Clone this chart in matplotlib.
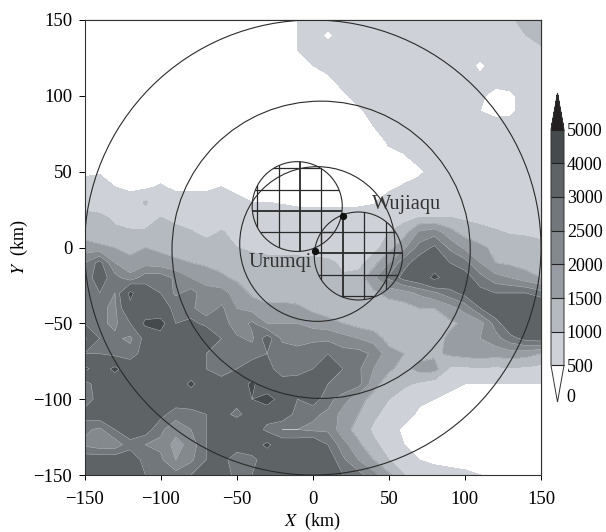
"""
Terrain height map around Urumqi and Wujiaqu, with nested domains.
Heights were read off the printed figure on a 10 km grid.
"""
import matplotlib
matplotlib.use("Agg")
import matplotlib.pyplot as plt
from matplotlib.patches import Circle
import numpy as np

plt.rcParams.update({
    "font.family": "Liberation Serif",
    "mathtext.fontset": "stix",
    "font.size": 13,
    "axes.linewidth": 0.8,
})

x_km = np.arange(-150, 151, 10)
y_km = np.arange(150, -151, -10)

# heights in units of 100 m, one row per y (north to south), one value per x (west to east)
height_rows = [
    [3,3,3,3,3,3,3,3,3,3, 3,3,3,3,5,7,7,7,7,7, 7,7,7,7,7,7,7,7,9,12, 12],
    [3,3,3,3,3,3,3,3,3,3, 3,3,3,3,5,7,4,7,7,7, 7,7,7,7,7,7,7,7,7,10, 12],
    [3,3,3,3,3,3,3,3,3,3, 3,3,3,3,5,7,7,7,7,7, 7,7,7,7,7,7,7,7,7,7, 9],
    [3,3,3,3,3,3,3,3,3,3, 3,3,3,3,4,5,7,7,7,7, 7,7,7,7,7,7,4,7,7,7, 7],
    [3,3,3,3,3,3,3,3,3,3, 3,3,3,3,3,3,3.5,7,7,7, 7,7,7,7,7,7,6,7,7,7, 7],
    [3,3,3,3,3,3,3,3,3,3, 3,3,3,3,3,3,3,4,7,7, 7,7,7,7,7,7,6,3,4,7, 7],
    [3,3,3,3,3,3,3,3,3,3, 3,3,3,3,3,3,3,3,4,7, 7,7,7,7,7,7,5,3.5,4,7, 7],
    [3,3,3,3,3,3,3,3,3,3, 3,3,3,3,3,3,3,3,3,5, 7,7,7,7,7,7,7,7,7,7, 7],
    [3,3,3,3,3,3,3,3,3,3, 3,3,3,3,3,3,3,3,3,3, 5.5,7,7,7,7,7,7,7,7,7, 7],
    [3,3,3,3,3,3,3,3,3,3, 3,3,3,3,3,3,3,3,3,3, 4,4.5,7,7,7,7,7,7,7,7, 7],
    [4,4.5,3,3,3,3,3,3,3,3, 3,3,3,3,3,3,3,3,3,3, 3,3,4,7,7,7,7,7,7,7, 7],
    [7,7,5,4,4,5.5,4,4,4,5, 4,3,3,3,3,3,3,3,3,3, 4,5.5,7,7,7,7,7,7,7,7, 7],
    [7,7,7,7,10.5,7,7,7,7,7, 6,5,5,4.6,4,4,4,4,4,4.6, 7,7,7,7,7,7,7,7,7,7, 7],
    [12,11,9,8,8,10,9,7,7,7, 7,7,7,7,7,7,7,7,7,7, 7,8,10,10,10,9,8,8,7.5,7, 7],
    [13,12,11,10.5,10.5,11,11,10.5,8,10.5, 8,7,7,7,7,7,7,7,7,8, 10,13,21,23,17,13,12,10.5,9.5,9, 8],
    [17,16,15,14,15,14,13,13,13,11, 10,9,8,8,7.5,7,7,7,7,8, 13,19,27,31,24,19,16,14,13,13, 12],
    [25,32,20,16,18,17,16,15,14,13, 12,12,12,12,12,12,11,9,8,13, 20,28,33,36,30,27,20,15,14,13, 13],
    [27,33,27,22,28,28,24,20,18,16, 14,13,12,12,12,12,12,10.5,12,19, 26,32,35,42,36,33,27,22,20,17, 15],
    [30,30,25,42,33,30,24,27,22,22, 18,14,13,12,12,12,12,12,13,14, 17,18,21,24,28,32,32,30,30,30, 27],
    [27,26,24,38,34,32,29,26,22,26, 20,18,16,17,16,14,12,12,12,12, 12,13,15,15,18,22,30,36,38,38, 38],
    [30,26,24,30,42,44,30,32,28,28, 22,26,20,20,20,18,17,15,13,12, 12,12,12,12,14,16,18,27,36,36, 38],
    [42,30,26,24,32,36,34,33,38,30, 26,24,33,24,24,24,24,22,20,18, 13,12,12,13,16,18,20,23,28,32, 33],
    [30,30,28,27,33,34,34,33,30,27, 26,28,30,28,26,28,30,27,27,24, 17,15,13,14,16,17,18,17,18,17, 15],
    [42,36,42,35,34,34,34,34,30,27, 30,33,33,26,27,30,33,30,26,20, 16,13,17,17,9,9,9,9,9,9, 8],
    [27,34,34,34,34,34,34,42,34,33, 34,42,33,34,34,31,30,30,27,17, 12,11,9,7,6,5,5,5,5,5, 5],
    [26,33,34,34,34,34,34,34,34,34, 33,40,44,36,30,33,27,22,17,13, 10,7,6,5,4,3,3,3,3,3, 3],
    [33,34,34,34,34,32,27,28,30,33, 28,34,34,34,28,26,24,18,15,11, 8,7,4,3,3,3,3,3,3,3, 3],
    [26,24,30,34,33,26,22,25,30,34, 38,36,28,25,25,24,24,17,13,9, 7,4,3,3,3,3,3,3,3,3, 3],
    [24,22,22,28,25,24,18,22,30,34, 34,35,42,34,34,36,30,22,16,11, 8,5,3,3,3,3,3,3,3,3, 3],
    [34,34,34,34,28,26,20,24,30,33, 26,28,34,34,34,36,34,26,20,15, 10,7,5,4,3,3,3,3,3,3, 3],
    [30,34,34,34,30,28,27,30,34,34, 28,30,34,34,34,34,34,30,27,22, 16,10,8,7,7,6,5,3,3,3, 3],
]
height = np.array(height_rows) * 100.0

levels = [500, 1000, 1500, 2000, 2500, 3000, 4000, 5000]
fill_colors = ["#ffffff", "#ced1d8", "#b5b9c0", "#989ca3", "#84898e",
               "#72777b", "#5e6366", "#454a4d", "#231f20"]

# domains: centre x, centre y, radius (km)
big_circles = [(0, 0, 150), (5.5, -1.5, 98), (3, 2.3, 51)]
nw_circle = (-10.2, 27, 29.6)
se_circle = (30, -5.6, 29)

nw_xlines = [-36.5, -22, -8.3, 5.6]
nw_ylines = [52.4, 38, 24, 10]
se_xlines = [5.6, 20, 34, 48]
se_ylines = [10, -3.6, -18, -32]
thick_xlines = [-8.3, 20]
thick_ylines = [24, -3.6]

city_names = ["Urumqi", "Wujiaqu"]
city_x = [1.6, 20]
city_y = [-2, 21]

W, H = 606, 532
fig = plt.figure(figsize=(W / 100, H / 100), dpi=100)
ax = fig.add_axes([84.5 / W, 1 - 475 / H, 456.5 / W, 455 / H])

cs = ax.contourf(x_km, y_km, height, levels=levels, colors=fill_colors, extend="both")
ax.contour(x_km, y_km, height, levels=levels[2:], colors="#c4c7cc", linewidths=0.35)

for cx, cy, r in big_circles:
    ax.add_patch(Circle((cx, cy), r, fill=False, ec="#2a2a2a", lw=0.8, zorder=5))


def grid_in_circle(circle, xlines, ylines):
    cx, cy, r = circle
    c = Circle((cx, cy), r, fill=False, ec="#2a2a2a", lw=0.8, zorder=6)
    ax.add_patch(c)
    for v in xlines:
        ln, = ax.plot([v, v], [cy - r, cy + r], color="#2a2a2a", zorder=6,
                      lw=1.3 if v in thick_xlines else 0.9)
        ln.set_clip_path(c)
    for v in ylines:
        ln, = ax.plot([cx - r, cx + r], [v, v], color="#2a2a2a", zorder=6,
                      lw=1.3 if v in thick_ylines else 0.9)
        ln.set_clip_path(c)


grid_in_circle(nw_circle, nw_xlines, nw_ylines)
grid_in_circle(se_circle, se_xlines, se_ylines)

ax.scatter(city_x, city_y, s=18, color="#111111", zorder=7)
ax.text(-42.4, -9.6, city_names[0], fontsize=14.7, color="#333333", va="center", zorder=7)
ax.text(39.1, 28.5, city_names[1], fontsize=14.7, color="#333333", va="center", zorder=7)

ax.set_xlim(-150, 150)
ax.set_ylim(-150, 150)
ax.set_xticks(np.arange(-150, 151, 50))
ax.set_yticks(np.arange(-150, 151, 50))
ax.tick_params(axis="x", direction="out", length=3.5, width=0.7, pad=8, labelsize=13.5)
ax.tick_params(axis="y", direction="out", length=4.3, width=0.7, pad=4.5, labelsize=13.5)
for s in ax.spines.values():
    s.set_color("#333333")

# inward ticks on the top and right
top = ax.secondary_xaxis("top")
top.set_xticks(np.arange(-150, 151, 50))
top.tick_params(direction="in", length=3.6, width=0.7, labeltop=False)
right = ax.secondary_yaxis("right")
right.set_yticks(np.arange(-150, 151, 50))
right.tick_params(direction="in", length=3.6, width=0.7, labelright=False)

fig.text(312 / W, 1 - 521 / H, r"$X$  (km)", fontsize=13, ha="center", va="center")
fig.text(19 / W, 1 - 247 / H, r"$Y$  (km)", fontsize=13, rotation=90, ha="center", va="center")

# the colorbar axes includes both extension triangles
cax = fig.add_axes([551 / W, 1 - 402 / H, 13 / W, 309 / H])
cb = fig.colorbar(cs, cax=cax, extend="both", extendfrac=0.155, spacing="uniform",
                  drawedges=True, ticks=levels)
cb.ax.set_yticklabels([str(v) for v in levels])
cb.ax.tick_params(length=0, pad=2, labelsize=13)
cb.outline.set_edgecolor("#333333")
cb.outline.set_linewidth(0.7)
cb.dividers.set_color("#222222")
cb.dividers.set_linewidth(0.8)
fig.text(566 / W, 1 - 398 / H, "0", fontsize=13, ha="left", va="center")

fig.savefig("out.png", dpi=100)
